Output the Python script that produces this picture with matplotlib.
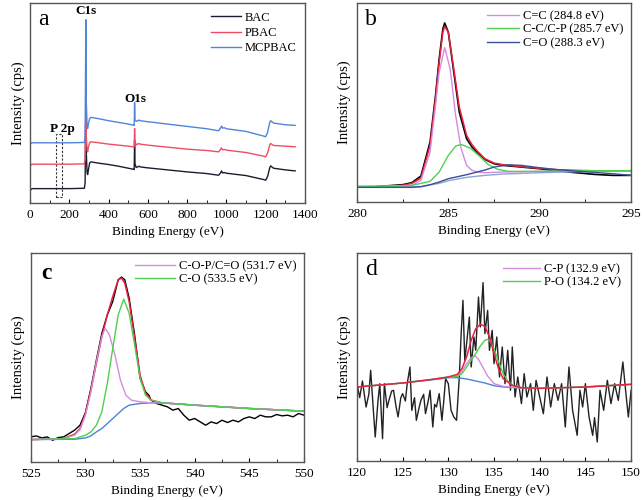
import numpy as np
import matplotlib
matplotlib.use('Agg')
from matplotlib import pyplot as plt
from matplotlib.patches import Rectangle
from matplotlib.ticker import MultipleLocator

plt.rcParams['font.family'] = ['Liberation Serif', 'DejaVu Serif']
plt.rcParams['font.size'] = 9

# ---- (a) survey spectra ----
survey_e = [0, 10, 50, 200, 276, 280, 282, 284, 286, 290, 293, 297, 303, 310, 350, 400, 450,
            500, 525, 530, 532, 534, 540, 555, 560, 600, 700, 800, 900, 960, 970, 975,
            980, 990, 1000, 1100, 1190, 1200, 1210, 1220, 1225, 1240, 1300, 1350]
bac = [38, 43, 43, 43, 44, 60, 200, 300, 150, 90, 85, 100, 120, 123, 119, 115, 110,
       104, 101, 100, 188, 118, 106, 110, 108, 105, 99, 93, 88, 83, 90, 96,
       90, 91, 89, 82, 70, 68, 80, 104, 111, 104, 99, 96]
pbac = [112, 116, 116, 116, 117, 130, 240, 263, 200, 158, 153, 168, 180, 183, 180, 176, 173,
        170, 168, 168, 223, 185, 174, 178, 176, 173, 167, 161, 157, 153, 160, 165,
        159, 160, 158, 151, 140, 138, 150, 172, 178, 172, 170, 168]
mcpbac = [176, 180, 180, 180, 181, 200, 400, 548, 300, 230, 223, 238, 252, 256, 252, 246, 241,
          236, 233, 232, 300, 250, 244, 248, 246, 243, 236, 229, 222, 216, 224, 230,
          224, 225, 222, 214, 200, 198, 212, 240, 246, 239, 234, 232]

# ---- (b) C1s ----
c1s_e = [280, 281, 282, 282.5, 283, 283.5, 284, 284.3, 284.5, 284.7, 284.8, 285.0, 285.3,
         285.6, 286.0, 286.3, 286.6, 287.0, 287.5, 288, 289, 290, 291, 292, 293, 294, 295]
c1s_raw = [46, 46, 50, 52, 58, 78, 180, 320, 430, 520, 538, 510, 390,
           270, 190, 165, 148, 128, 115, 110, 105, 100, 93, 88, 83, 80, 80]
c1s_env = [46, 46, 48, 50, 56, 72, 170, 310, 420, 510, 528, 510, 400,
           285, 200, 172, 152, 130, 117, 112, 106, 101, 97, 95, 94, 94, 94]
cc_e = [280, 283, 283.5, 284, 284.3, 284.5, 284.8, 285.1, 285.4, 285.7, 286, 286.3, 286.6,
        287, 288, 290, 292, 295]
cc_i = [46, 50, 65, 150, 290, 390, 464, 400, 260, 160, 110, 95, 90, 88, 90, 92, 94, 94]
ccp_e = [280, 282, 283, 284, 284.5, 285, 285.4, 285.7, 286.2, 286.7, 287.2, 287.7, 288.3,
         290, 292, 295]
ccp_i = [46, 47, 50, 62, 90, 140, 168, 173, 162, 138, 112, 98, 92, 92, 94, 94]
co_e = [280, 283, 283.5, 284, 284.5, 285, 286, 287, 287.5, 288.3, 289, 290, 291, 292, 293, 294, 295]
co_i = [44, 44, 46, 52, 60, 70, 82, 96, 105, 112, 110, 103, 97, 93, 89, 85, 80]
c1s_bg_e = [280, 283.5, 284.5, 285, 286, 287, 288, 290, 292, 295]
c1s_bg = [44, 46, 56, 64, 74, 80, 84, 88, 91, 94]

# ---- (c) O1s ----
o1s_e = [525, 525.5, 526, 526.5, 527, 527.5, 528, 528.5, 529, 529.5, 530, 530.5, 531, 531.5,
         532, 532.5, 533, 533.3, 533.6, 534, 534.5, 535, 535.5, 535.8, 536, 536.5, 537,
         537.5, 538, 538.5, 539, 539.5, 540, 540.5, 541, 541.5, 542, 542.5, 543, 543.5,
         544, 544.5, 545, 545.5, 546, 546.5, 547, 547.5, 548, 548.5, 549, 549.5, 550]
o1s_raw = [75, 78, 72, 75, 65, 73, 75, 85, 95, 110, 148, 220, 305, 385,
           440, 480, 545, 553, 545, 490, 380, 250, 210, 200, 185, 175, 170,
           165, 155, 160, 140, 125, 130, 120, 110, 120, 115, 125, 118, 125,
           120, 130, 135, 130, 140, 135, 135, 142, 138, 140, 135, 145, 140]
o1s_fit_e = [525, 528, 529, 529.5, 530, 530.5, 531, 531.5, 532, 532.5, 533, 533.3, 533.6,
             534, 534.5, 535, 535.5, 536, 537, 540, 545, 550]
o1s_env = [67, 70, 83, 100, 145, 215, 295, 375, 440, 495, 545, 550, 535,
           480, 370, 260, 205, 185, 177, 170, 160, 152]
cop_e = [525, 528, 529, 529.5, 530, 530.5, 531, 531.5, 531.8, 532.2, 532.7, 533.2, 533.7,
         534.2, 535, 536, 537, 540, 545, 550]
cop_i = [67, 70, 80, 97, 140, 210, 300, 375, 400, 380, 320, 245, 200,
         185, 180, 177, 177, 170, 160, 152]
co2_e = [525, 529, 530, 530.5, 531, 531.5, 532, 532.5, 533, 533.5, 534, 534.5, 535, 535.5,
         536, 537, 540, 545, 550]
co2_i = [67, 70, 80, 90, 110, 150, 235, 340, 440, 487, 445, 350, 250, 200,
         185, 177, 170, 160, 152]
o1s_bg_e = [525, 529, 530, 530.5, 531, 531.5, 532, 532.5, 533, 533.5, 534, 535, 536, 537,
            540, 545, 550]
o1s_bg = [67, 68, 72, 78, 90, 100, 115, 130, 145, 160, 170, 175, 177, 177, 170, 160, 152]

# ---- (d) P2p ----
p2p_e = [120.0, 120.3, 120.6, 121.0, 121.3, 121.5, 121.8, 122.0, 122.3, 122.5, 122.8, 123.0,
         123.3, 123.5, 123.8, 124.0, 124.3, 124.5, 124.8, 125.0, 125.3, 125.5, 125.8, 126.0,
         126.3, 126.5, 126.8, 127.0, 127.3, 127.5, 127.8, 128.0, 128.3, 128.5, 128.7, 129.0,
         129.3, 129.5, 129.7, 130.0, 130.3, 130.6, 130.9, 131.2, 131.4, 131.6, 131.8, 132.0,
         132.3, 132.5, 132.8, 133.0, 133.3, 133.5, 133.8, 134.0, 134.3, 134.5, 134.8, 135.0,
         135.3, 135.6, 135.9, 136.2, 136.5, 136.8, 137.0, 137.3, 137.6, 138.0, 138.3, 138.6,
         139.0, 139.3, 139.6, 140.0, 140.4, 140.8, 141.2, 141.6, 142.0, 142.4, 142.8, 143.2,
         143.6, 144.1, 144.4, 144.7, 145.0, 145.4, 145.8, 146.0, 146.3, 146.6, 147.0, 147.4,
         147.8, 148.2, 148.6, 149.1, 149.4, 149.7, 150.0]
p2p_raw = [232, 190, 240, 162, 200, 272, 150, 72, 180, 232, 67, 232,
           160, 182, 210, 212, 160, 132, 190, 202, 180, 232, 282, 152,
           190, 122, 160, 182, 200, 142, 180, 212, 102, 170, 162, 202,
           122, 180, 247, 232, 152, 132, 122, 252, 380, 482, 302, 352,
           432, 282, 372, 332, 492, 402, 535, 382, 452, 332, 392, 292,
           372, 252, 342, 232, 332, 212, 342, 192, 252, 172, 262, 192,
           232, 152, 242, 192, 142, 252, 162, 232, 182, 232, 102, 282,
           152, 77, 212, 162, 232, 132, 77, 130, 57, 212, 152, 242,
           172, 232, 182, 297, 212, 132, 212]
p2p_fit_e = [120, 125, 128, 130, 131, 131.5, 132, 132.5, 133, 133.5, 134, 134.5, 135, 135.5,
             136, 137, 138, 140, 145, 150]
p2p_env = [222, 234, 244, 252, 260, 278, 312, 362, 397, 410, 404, 372, 322, 277,
           247, 227, 220, 218, 222, 230]
po_e = [120, 125, 128, 130, 131, 131.5, 132, 132.5, 133, 133.5, 134, 134.3, 134.5, 135,
        135.5, 136, 136.5, 137, 138, 140, 145, 150]
po_i = [222, 234, 244, 252, 254, 262, 282, 302, 322, 345, 362, 365, 362, 337,
        297, 262, 240, 228, 220, 218, 222, 230]
cp_e = [130, 131, 131.5, 132, 132.5, 132.9, 133.3, 133.8, 134.3, 135, 136, 138]
cp_i = [250, 255, 270, 292, 310, 317, 305, 280, 255, 232, 224, 219]
p2p_bg_e = [120, 125, 129, 130, 131, 132, 133, 134, 135, 136, 138, 140, 145, 150]
p2p_bg = [222, 234, 246, 250, 250, 246, 240, 234, 226, 222, 219, 218, 222, 230]

RED = '#e8203f'
PINK = '#d58be0'
GREEN = '#4fcf4f'
BLUE = '#4a84d4'
NAVY = '#3b4f96'

fig = plt.figure(figsize=(6.42, 5.0), dpi=100)
ax_a = fig.add_axes([0.047, 0.594, 0.428, 0.400])
ax_b = fig.add_axes([0.556, 0.596, 0.427, 0.398])
ax_c = fig.add_axes([0.048, 0.076, 0.4255, 0.418])
ax_d = fig.add_axes([0.556, 0.078, 0.427, 0.416])

for ax in (ax_a, ax_b, ax_c, ax_d):
    ax.set_yticks([])
    ax.tick_params(axis='x', direction='in', length=3, width=0.8, labelsize=9.5, pad=4)
    ax.tick_params(axis='x', which='minor', direction='in', length=2, width=0.6)
    for s in ax.spines.values():
        s.set_color('#555555')
        s.set_linewidth(1.0)
    ax.set_xlabel('Binding Energy (eV)', fontsize=9.5, labelpad=4)
    ax.set_ylabel('Intensity (cps)', fontsize=10.5, labelpad=4)

# a
ax_a.plot(survey_e, bac, color='#1c1c30', lw=1.0, label='BAC')
ax_a.plot(survey_e, pbac, color='#ef4d64', lw=1.0, label='PBAC')
ax_a.plot(survey_e, mcpbac, color='#4f86d6', lw=1.0, label='MCPBAC')
ax_a.set_xlim(0, 1400)
ax_a.set_ylim(0, 598)
ax_a.xaxis.set_major_locator(MultipleLocator(200))
ax_a.xaxis.set_minor_locator(MultipleLocator(100))
ax_a.add_patch(Rectangle((131, 18), 30, 188, fill=False, ls=(0, (2, 1.5)), lw=0.8, ec='#333333'))
ax_a.text(163, 240, 'P 2p', ha='center', va='top', fontweight='bold', fontsize=9.5)
ax_a.text(285, 592, 'C1s', ha='center', va='top', fontweight='bold', fontsize=9.5)
ax_a.text(535, 330, 'O1s', ha='center', va='top', fontweight='bold', fontsize=9.5)
ax_a.text(0.03, 0.97, 'a', transform=ax_a.transAxes, ha='left', va='top', fontsize=17)
ax_a.legend(loc='upper right', frameon=False, fontsize=9, handlelength=2.4,
            handletextpad=0.3, labelspacing=0.25, borderaxespad=0.3)

# b
ax_b.plot(c1s_e, c1s_raw, color='black', lw=1.2)
ax_b.plot(c1s_e, c1s_env, color=RED, lw=1.1)
ax_b.plot(c1s_bg_e, c1s_bg, color='#8aa6d8', lw=1.0)
ax_b.plot(cc_e, cc_i, color=PINK, lw=1.0, label='C=C (284.8 eV)')
ax_b.plot(ccp_e, ccp_i, color=GREEN, lw=1.0, label='C-C/C-P (285.7 eV)')
ax_b.plot(co_e, co_i, color=NAVY, lw=1.0, label='C=O (288.3 eV)')
ax_b.set_xlim(280, 295)
ax_b.set_ylim(0, 598)
ax_b.xaxis.set_major_locator(MultipleLocator(5))
ax_b.xaxis.set_minor_locator(MultipleLocator(2.5))
ax_b.text(0.03, 0.97, 'b', transform=ax_b.transAxes, ha='left', va='top', fontsize=17)
ax_b.legend(loc='upper right', frameon=False, fontsize=9, handlelength=2.6,
            handletextpad=0.3, labelspacing=0.1, borderaxespad=0.2)

# c
ax_c.plot(o1s_e, o1s_raw, color='black', lw=1.0)
ax_c.plot(o1s_fit_e, o1s_env, color=RED, lw=1.1)
ax_c.plot(o1s_bg_e, o1s_bg, color=BLUE, lw=1.0)
ax_c.plot(cop_e, cop_i, color=PINK, lw=1.0, label='C-O-P/C=O (531.7 eV)')
ax_c.plot(co2_e, co2_i, color=GREEN, lw=1.0, label='C-O (533.5 eV)')
ax_c.set_xlim(525, 550)
ax_c.set_ylim(0, 625)
ax_c.xaxis.set_major_locator(MultipleLocator(5))
ax_c.xaxis.set_minor_locator(MultipleLocator(2.5))
ax_c.text(0.04, 0.95, 'c', transform=ax_c.transAxes, ha='left', va='top', fontsize=17,
          fontweight='bold')
ax_c.legend(loc='upper right', frameon=False, fontsize=9, handlelength=3.2,
            handletextpad=0.3, labelspacing=0.1, borderaxespad=0.2)

# d
ax_d.plot(p2p_e, p2p_raw, color='#222222', lw=1.0)
ax_d.plot(p2p_bg_e, p2p_bg, color=BLUE, lw=1.0)
ax_d.plot(cp_e, cp_i, color=PINK, lw=1.0, label='C-P (132.9 eV)')
ax_d.plot(po_e, po_i, color=GREEN, lw=1.0, label='P-O (134.2 eV)')
ax_d.plot(p2p_fit_e, p2p_env, color=RED, lw=1.1)
ax_d.set_xlim(120, 150)
ax_d.set_ylim(0, 624)
ax_d.xaxis.set_major_locator(MultipleLocator(5))
ax_d.xaxis.set_minor_locator(MultipleLocator(2.5))
ax_d.text(0.03, 0.97, 'd', transform=ax_d.transAxes, ha='left', va='top', fontsize=17)
ax_d.legend(loc='upper right', frameon=False, fontsize=9, handlelength=3.0,
            handletextpad=0.3, labelspacing=0.1, borderaxespad=0.4)

plt.savefig('out.png', dpi=100)
plt.close('all')
